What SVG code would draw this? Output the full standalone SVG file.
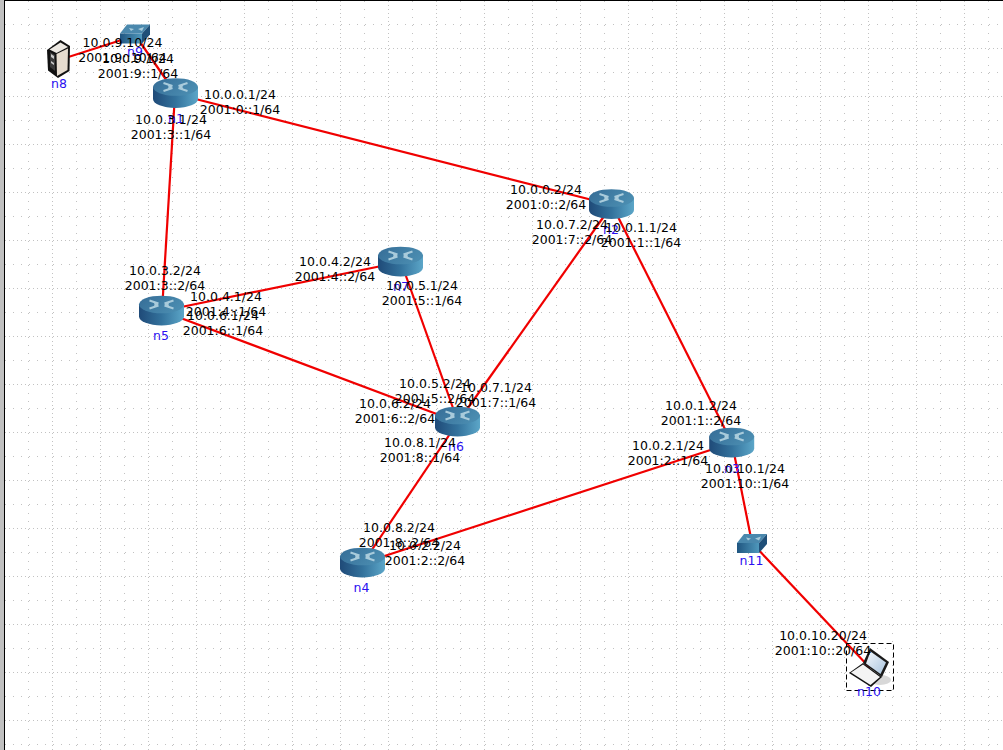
<svg xmlns="http://www.w3.org/2000/svg" xmlns:xlink="http://www.w3.org/1999/xlink" width="1003" height="750" viewBox="0 0 1003 750">
<style>
.g7{stroke:#c2c2c2;stroke-width:1;stroke-dasharray:1 7;fill:none}
.g3{stroke:#c2c2c2;stroke-width:1;stroke-dasharray:1 3;fill:none}
.link{stroke:#f00000;stroke-width:2.2;fill:none}
.ip{font-family:"DejaVu Sans",sans-serif;font-size:12.5px;fill:#000;text-anchor:middle}
.nm{font-family:"DejaVu Sans",sans-serif;font-size:12.5px;fill:#2a10f0;text-anchor:middle}
.x{stroke:#a9cbdb;stroke-width:2;fill:none}
</style>
<defs>
<pattern id="grid" patternUnits="userSpaceOnUse" x="5" y="1" width="48" height="48">
<path class="g7" shape-rendering="crispEdges" d="M23.5 0V48M0 23.5H48"/>
<path class="g3" shape-rendering="crispEdges" d="M47.5 0V48M0 47.5H48"/>
</pattern>
<linearGradient id="body" x1="0" x2="1" y1="0" y2="0">
<stop offset="0" stop-color="#1f4a78"/><stop offset="0.5" stop-color="#33729c"/><stop offset="1" stop-color="#5ca6c8"/>
</linearGradient>
<linearGradient id="top" x1="0" x2="1" y1="0" y2="0.4">
<stop offset="0" stop-color="#356c96"/><stop offset="1" stop-color="#4a8cb0"/>
</linearGradient>
<linearGradient id="swf" x1="0" x2="1" y1="0" y2="0">
<stop offset="0" stop-color="#1f5580"/><stop offset="1" stop-color="#4f98bc"/>
</linearGradient>
<linearGradient id="scr" x1="0" x2="1" y1="0" y2="1">
<stop offset="0" stop-color="#f4f8fc"/><stop offset="1" stop-color="#a9c4de"/>
</linearGradient>
<g id="router">
<path d="M-22.5 -6.5V5.5A22.5 9 0 0 0 22.5 5.5V-6.5Z" fill="url(#body)"/>
<ellipse cx="0" cy="-6.5" rx="22.5" ry="8.8" fill="url(#top)"/>
<path class="x" d="M-12 -10.5L-3 -7.5M-12 -2.5L-3 -5.5M12 -10.5L3 -7.5M12 -2.5L3 -5.5"/>
<path d="M-3 -6.5L-8 -10L-7 -6.5L-8 -3ZM3 -6.5L8 -10L7 -6.5L8 -3Z" fill="#a9cbdb"/>
</g>
<g id="switch">
<path d="M0 9.5L7 0.5H30L22 9.5Z" fill="#4a88ad"/>
<path d="M22 9.5L30 0.5V10.5L22 19.5Z" fill="#1f4f78"/>
<rect x="0" y="9.5" width="22" height="10" fill="url(#swf)"/>
<path d="M9 4L14 5L11 7ZM24 3L18 5L22 7Z" fill="#a9cbdb"/>
</g>
</defs>
<rect width="1003" height="750" fill="#ffffff"/>
<rect x="5" y="1" width="998" height="749" fill="url(#grid)"/>
<rect x="0" y="0" width="4" height="750" fill="#c0c0c0"/>
<rect x="4" y="0" width="1" height="750" fill="#000000"/>
<rect x="4" y="0" width="999" height="1" fill="#000000"/>
<g id="connectors">
<path class="link" d="M59 60L134 36"/>
<path class="link" d="M140 42L176 94"/>
<path class="link" d="M176 94L612 205"/>
<path class="link" d="M175 94L162 311"/>
<path class="link" d="M612 205L732 443"/>
<path class="link" d="M612 205L458 422"/>
<path class="link" d="M732 443L363 563"/>
<path class="link" d="M732 443L752 543"/>
<path class="link" d="M752 543L870 668"/>
<path class="link" d="M458 422L363 563"/>
<path class="link" d="M162 311L458 422"/>
<path class="link" d="M162 311L401 262"/>
<path class="link" d="M401 262L458 422"/>
</g>
<g id="n1"><use xlink:href="#router" href="#router" x="175.5" y="93.5"/><text class="nm" x="176" y="123">n1</text></g>
<g id="n2"><use xlink:href="#router" href="#router" x="611.5" y="204.5"/><text class="nm" x="611" y="234">n2</text></g>
<g id="n3"><use xlink:href="#router" href="#router" x="731.7" y="443"/><text class="nm" x="732" y="473">n3</text></g>
<g id="n4"><use xlink:href="#router" href="#router" x="362.5" y="563"/><text class="nm" x="361.5" y="592">n4</text></g>
<g id="n5"><use xlink:href="#router" href="#router" x="161.5" y="311"/><text class="nm" x="161" y="340">n5</text></g>
<g id="n6"><use xlink:href="#router" href="#router" x="457.5" y="422"/><text class="nm" x="456" y="451">n6</text></g>
<g id="n7"><use xlink:href="#router" href="#router" x="400.5" y="262"/><text class="nm" x="401" y="291">n7</text></g>
<g id="n9"><use xlink:href="#switch" href="#switch" x="120" y="24"/><text class="nm" x="135" y="56">n9</text></g>
<g id="n11"><use xlink:href="#switch" href="#switch" x="737" y="533.5"/><text class="nm" x="751.5" y="565">n11</text></g>
<g id="n8">
<path d="M60.5 40L70 46L69.5 71L58 78L48 70.5L47 50Z" fill="#111111"/>
<path d="M49.5 49.5L60.5 42.5L68 47L56.5 53Z" fill="#ece8e2"/>
<path d="M56.5 54L68 48.5L67.5 70L57 76Z" fill="#e6dccf"/>
<path d="M50 52L55 55V71L50 67Z" fill="#3a3a3a"/>
<path d="M51 54L54 56V59L51 57ZM51 61L54 63V65L51 63Z" fill="#c8c8c8"/>
<text class="nm" x="59" y="88">n8</text>
</g>
<g id="n10">
<rect x="846.5" y="643.5" width="47" height="47" fill="none" stroke="#000" stroke-dasharray="5 3"/>
<ellipse cx="880" cy="680" rx="11" ry="5" fill="#d8d8d8"/>
<path d="M870 648L889 662L882 677L863 663Z" fill="#1a1a1a"/>
<path d="M870.5 651.5L886 662.5L880.5 674L866 663.5Z" fill="url(#scr)"/>
<path d="M863 663L882 677L871 687L849 673Z" fill="#111111"/>
<path d="M863 664.5L880 677L870.5 685L851 672.5Z" fill="#f4f4f4"/>
<text class="nm" x="869" y="696">n10</text>
</g>
<g id="labels">
<text class="ip" x="122.5" y="47">10.0.9.10/24</text><text class="ip" x="122.5" y="62">2001:9::10/64</text>
<text class="ip" x="138" y="63">10.0.9.1/24</text><text class="ip" x="138" y="78">2001:9::1/64</text>
<text class="ip" x="240" y="99">10.0.0.1/24</text><text class="ip" x="240" y="114">2001:0::1/64</text>
<text class="ip" x="171" y="124">10.0.3.1/24</text><text class="ip" x="171" y="139">2001:3::1/64</text>
<text class="ip" x="546" y="194">10.0.0.2/24</text><text class="ip" x="546" y="209">2001:0::2/64</text>
<text class="ip" x="572" y="229">10.0.7.2/24</text><text class="ip" x="572" y="244">2001:7::2/64</text>
<text class="ip" x="641" y="232">10.0.1.1/24</text><text class="ip" x="641" y="247">2001:1::1/64</text>
<text class="ip" x="165" y="275">10.0.3.2/24</text><text class="ip" x="165" y="290">2001:3::2/64</text>
<text class="ip" x="226" y="301">10.0.4.1/24</text><text class="ip" x="226" y="316">2001:4::1/64</text>
<text class="ip" x="223" y="320">10.0.6.1/24</text><text class="ip" x="223" y="335">2001:6::1/64</text>
<text class="ip" x="335" y="266">10.0.4.2/24</text><text class="ip" x="335" y="281">2001:4::2/64</text>
<text class="ip" x="422" y="290">10.0.5.1/24</text><text class="ip" x="422" y="305">2001:5::1/64</text>
<text class="ip" x="435" y="388">10.0.5.2/24</text><text class="ip" x="435" y="403">2001:5::2/64</text>
<text class="ip" x="496" y="392">10.0.7.1/24</text><text class="ip" x="496" y="407">2001:7::1/64</text>
<text class="ip" x="395" y="408">10.0.6.2/24</text><text class="ip" x="395" y="423">2001:6::2/64</text>
<text class="ip" x="420" y="447">10.0.8.1/24</text><text class="ip" x="420" y="462">2001:8::1/64</text>
<text class="ip" x="701" y="410">10.0.1.2/24</text><text class="ip" x="701" y="425">2001:1::2/64</text>
<text class="ip" x="668" y="450">10.0.2.1/24</text><text class="ip" x="668" y="465">2001:2::1/64</text>
<text class="ip" x="745" y="473">10.0.10.1/24</text><text class="ip" x="745" y="488">2001:10::1/64</text>
<text class="ip" x="399" y="532">10.0.8.2/24</text><text class="ip" x="399" y="547">2001:8::2/64</text>
<text class="ip" x="425" y="550">10.0.2.2/24</text><text class="ip" x="425" y="565">2001:2::2/64</text>
<text class="ip" x="823" y="640">10.0.10.20/24</text><text class="ip" x="823" y="655">2001:10::20/64</text>
</g>
</svg>
